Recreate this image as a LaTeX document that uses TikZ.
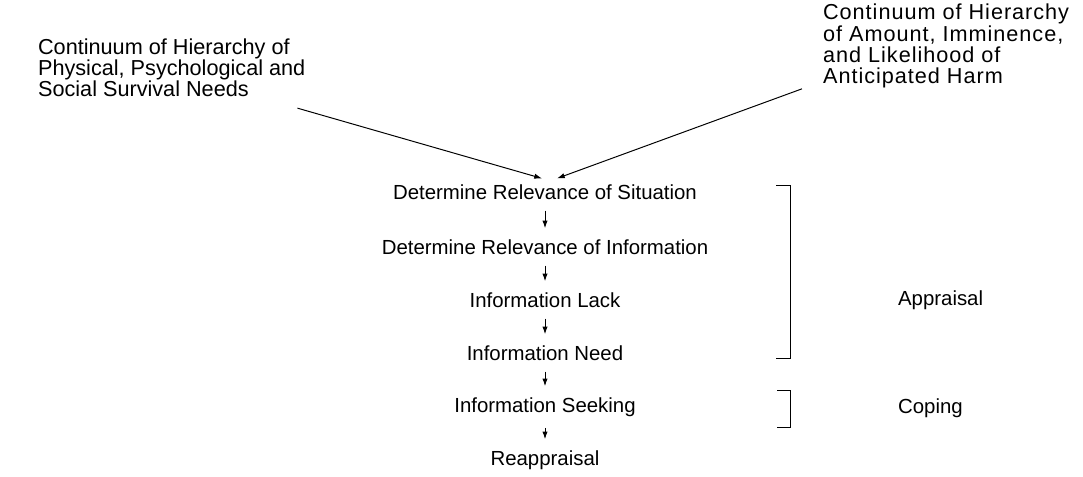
\documentclass[tikz,border=0pt]{standalone}
\usepackage{fontspec}
\setmainfont{Liberation Sans}
\usetikzlibrary{positioning,arrows.meta}

\begin{document}
\begin{tikzpicture}[x=0.025cm,y=-0.025cm,
  lbl/.style={font=\fontsize{14.5}{15}\selectfont,inner sep=2pt},
  src/.style={font=\fontsize{15.4}{15}\selectfont\addfontfeature{LetterSpace=#1},inner sep=2pt,anchor=west,align=left},
  arr/.style={-{Latex[length=5.5pt,width=3.8pt]},line width=0.7pt},
  brk/.style={line width=0.7pt}]
\useasboundingbox (0,0) rectangle (1083,477);
% Two sources at the top
\node[src=0] (needs) at (35,68) {Continuum of Hierarchy of\\Physical, Psychological and\\Social Survival Needs};
\node[src=4.5] (harm) at (820,46) {Continuum of Hierarchy\\of Amount, Imminence,\\and Likelihood of\\Anticipated Harm};
% Chain of steps
\node[lbl] (sit) at (545,192) {Determine Relevance of Situation};
\node[lbl] (info) at (545,247) {Determine Relevance of Information};
\node[lbl] (lack) at (545,300) {Information Lack};
\node[lbl] (need) at (545,353) {Information Need};
\node[lbl] (seek) at (545,407) {Information Seeking};
\node[lbl] (reapp) at (545,460) {Reappraisal};
% Arrows into the first step
\draw[arr] ([shift={(-11,8)}]needs.south east) -- ([shift={(-3,-3)}]sit.north);
\draw[arr] ([shift={(-18,-2)}]harm.south west) -- ([shift={(12,-3)}]sit.north);
% Arrows down the chain
\foreach \a/\b in {sit/info,info/lack,lack/need,need/seek,seek/reapp}
  \draw[arr,shorten <=5.8pt,shorten >=5.8pt] (\a) -- (\b);
% Brackets on the right
\draw[brk] (776,185) -- (790,185) -- (790,358) -- (776,358);
\draw[brk] (777,390) -- (790,390) -- (790,427) -- (777,427);
\node[lbl,anchor=west] (appr) at (895,300) {Appraisal};
\node[lbl,anchor=west] (cope) at (895,408) {Coping};
\end{tikzpicture}
\end{document}
